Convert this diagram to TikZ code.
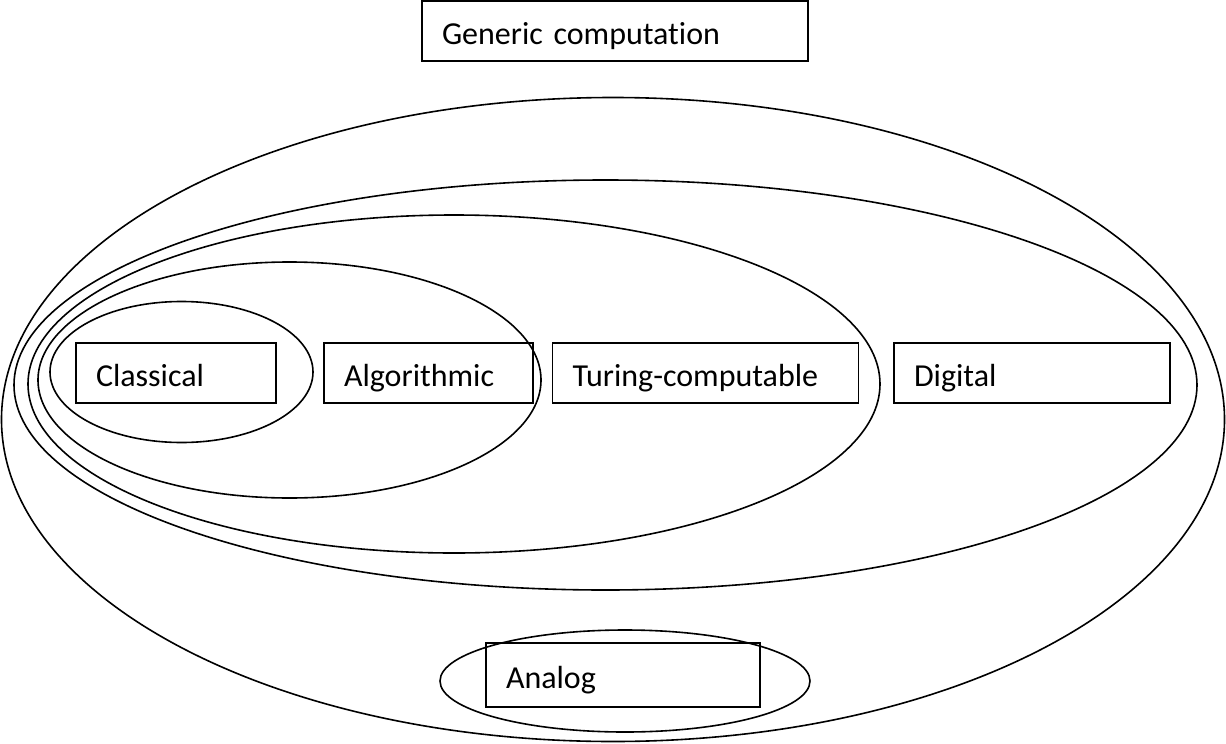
\documentclass[tikz,border=0pt]{standalone}
\usepackage{fontspec}
\setmainfont{Carlito}[Ligatures=NoCommon]
\begin{document}
\begin{tikzpicture}[x=1pt,y=-1pt,
  line width=1.6pt,
  box/.style={draw, rectangle, inner xsep=20pt, inner ysep=0pt, align=left,
    text height=27pt, text depth=0pt,
    font=\fontsize{32}{38}\selectfont, anchor=center},
  oval/.style={draw}]
\useasboundingbox (0,0) rectangle (1226,744);
% ellipses
\draw[oval] (613,419.5) ellipse [x radius=611.5pt, y radius=322pt];
\draw[oval] (605.5,385) ellipse [x radius=591.5pt, y radius=205pt];
\draw[oval] (454,384) ellipse [x radius=426pt, y radius=169pt];
\draw[oval] (289.5,380) ellipse [x radius=251.5pt, y radius=118pt];
\draw[oval] (181.5,372) ellipse [x radius=131.5pt, y radius=70.5pt];
\draw[oval] (625,681) ellipse [x radius=185pt, y radius=51pt];
% boxes
\node[box, minimum width=386pt, minimum height=60pt, text width=346pt] (gen) at (615,31) {Generic computation};
\node[box, minimum width=200pt, minimum height=60pt, text width=160pt] (cla) at (176,373) {Classical};
\node[box, minimum width=209pt, minimum height=60pt, text width=169pt] (alg) at (428.5,373) {Algorithmic};
\node[box, minimum width=306pt, minimum height=60pt, text width=266pt] (tur) at (705.5,373) {Turing-computable};
\node[box, minimum width=276pt, minimum height=60pt, text width=236pt] (dig) at (1032,373) {Digital};
\node[box, minimum width=274pt, minimum height=64pt, text width=234pt] (ana) at (623,675) {Analog};
\end{tikzpicture}
\end{document}
